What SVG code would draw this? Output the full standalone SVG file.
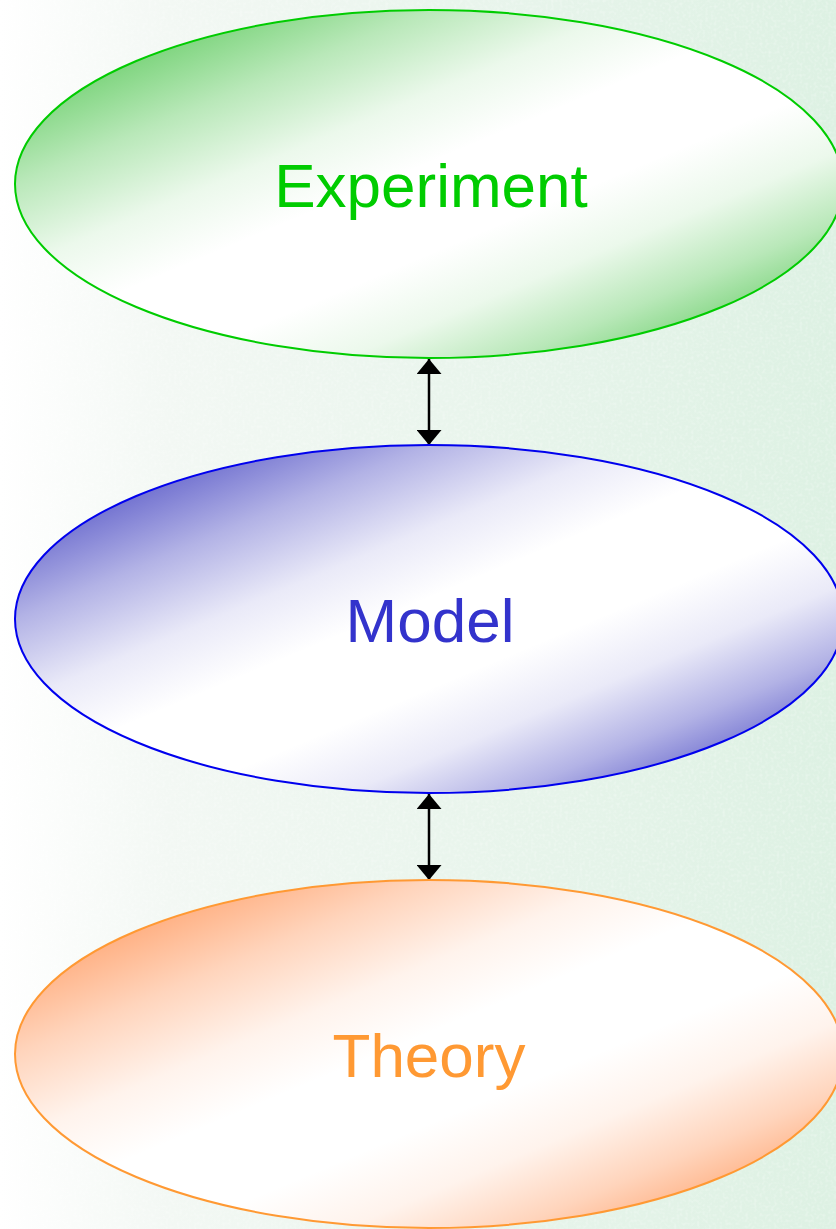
<svg xmlns="http://www.w3.org/2000/svg" width="836" height="1229" viewBox="0 0 836 1229">
<defs>
<linearGradient id="bg" x1="0" y1="0" x2="1" y2="0">
<stop offset="0" stop-color="#ffffff"/>
<stop offset="0.2" stop-color="#f3f8f4"/>
<stop offset="1" stop-color="#ddf1e3"/>
</linearGradient>
<filter id="noise" x="0" y="0" width="1" height="1">
<feTurbulence type="fractalNoise" baseFrequency="0.35" numOctaves="1" seed="4" result="n"/>
<feColorMatrix in="n" type="matrix" values="0 0 0 0 1  0 0 0 0 1  0 0 0 0 1  0 0 0 1.2 -0.55" result="w"/>
<feComposite in="w" in2="SourceGraphic" operator="in"/>
</filter>
<linearGradient id="gGreen" x1="0" y1="0" x2="1" y2="1">
<stop offset="0" stop-color="#3cbf3c" stop-opacity="1"/>
<stop offset="0.12" stop-color="#3cbf3c" stop-opacity="0.72"/>
<stop offset="0.25" stop-color="#3cbf3c" stop-opacity="0.36"/>
<stop offset="0.37" stop-color="#3cbf3c" stop-opacity="0.1"/>
<stop offset="0.47" stop-color="#3cbf3c" stop-opacity="0"/>
<stop offset="0.6" stop-color="#3cbf3c" stop-opacity="0"/>
<stop offset="0.7" stop-color="#3cbf3c" stop-opacity="0.1"/>
<stop offset="0.8" stop-color="#3cbf3c" stop-opacity="0.36"/>
<stop offset="0.9" stop-color="#3cbf3c" stop-opacity="0.72"/>
<stop offset="1" stop-color="#3cbf3c" stop-opacity="1"/>
</linearGradient>
<linearGradient id="gBlue" x1="0" y1="0" x2="1" y2="1">
<stop offset="0" stop-color="#2a2ab8" stop-opacity="1"/>
<stop offset="0.12" stop-color="#2a2ab8" stop-opacity="0.72"/>
<stop offset="0.25" stop-color="#2a2ab8" stop-opacity="0.36"/>
<stop offset="0.37" stop-color="#2a2ab8" stop-opacity="0.1"/>
<stop offset="0.47" stop-color="#2a2ab8" stop-opacity="0"/>
<stop offset="0.6" stop-color="#2a2ab8" stop-opacity="0"/>
<stop offset="0.7" stop-color="#2a2ab8" stop-opacity="0.1"/>
<stop offset="0.8" stop-color="#2a2ab8" stop-opacity="0.36"/>
<stop offset="0.9" stop-color="#2a2ab8" stop-opacity="0.72"/>
<stop offset="1" stop-color="#2a2ab8" stop-opacity="1"/>
</linearGradient>
<linearGradient id="gOrange" x1="0" y1="0" x2="1" y2="1">
<stop offset="0" stop-color="#ff8844" stop-opacity="1"/>
<stop offset="0.12" stop-color="#ff8844" stop-opacity="0.72"/>
<stop offset="0.25" stop-color="#ff8844" stop-opacity="0.36"/>
<stop offset="0.37" stop-color="#ff8844" stop-opacity="0.1"/>
<stop offset="0.47" stop-color="#ff8844" stop-opacity="0"/>
<stop offset="0.6" stop-color="#ff8844" stop-opacity="0"/>
<stop offset="0.7" stop-color="#ff8844" stop-opacity="0.1"/>
<stop offset="0.8" stop-color="#ff8844" stop-opacity="0.36"/>
<stop offset="0.9" stop-color="#ff8844" stop-opacity="0.72"/>
<stop offset="1" stop-color="#ff8844" stop-opacity="1"/>
</linearGradient>
<marker id="ah" viewBox="0 0 15 25" refX="15" refY="12.5" markerWidth="15" markerHeight="25" markerUnits="userSpaceOnUse" orient="auto-start-reverse">
<path d="M0,0 L15,12.5 L0,25 Z" fill="#000"/>
</marker>
<style>
.lbl { font-family: "Liberation Sans", Arial, sans-serif; font-size: 62px; text-anchor: middle; }
.conn { stroke: #000; stroke-width: 2.5; fill: none; }
.base { fill: #ffffff; }
</style>
</defs>
<rect width="836" height="1229" fill="url(#bg)"/>
<rect width="836" height="1229" fill="url(#bg)" filter="url(#noise)" opacity="0.6"/>
<g id="connectors">
<line class="conn" x1="429" y1="359" x2="429" y2="445" marker-start="url(#ah)" marker-end="url(#ah)"/>
<line class="conn" x1="429" y1="794" x2="429" y2="880" marker-start="url(#ah)" marker-end="url(#ah)"/>
</g>
<g id="experiment">
<ellipse class="base" cx="429" cy="184" rx="414" ry="174"/>
<ellipse cx="429" cy="184" rx="414" ry="174" fill="url(#gGreen)" stroke="#00cc00" stroke-width="2"/>
<text class="lbl" x="431" y="207" fill="#00cc00">Experiment</text>
</g>
<g id="model">
<ellipse class="base" cx="429" cy="619" rx="414" ry="174"/>
<ellipse cx="429" cy="619" rx="414" ry="174" fill="url(#gBlue)" stroke="#0000ee" stroke-width="2"/>
<text class="lbl" x="430" y="642" fill="#3333cc">Model</text>
</g>
<g id="theory">
<ellipse class="base" cx="429" cy="1054" rx="414" ry="174"/>
<ellipse cx="429" cy="1054" rx="414" ry="174" fill="url(#gOrange)" stroke="#ff9933" stroke-width="2"/>
<text class="lbl" x="429" y="1077" fill="#ff9933">Theory</text>
</g>
</svg>
